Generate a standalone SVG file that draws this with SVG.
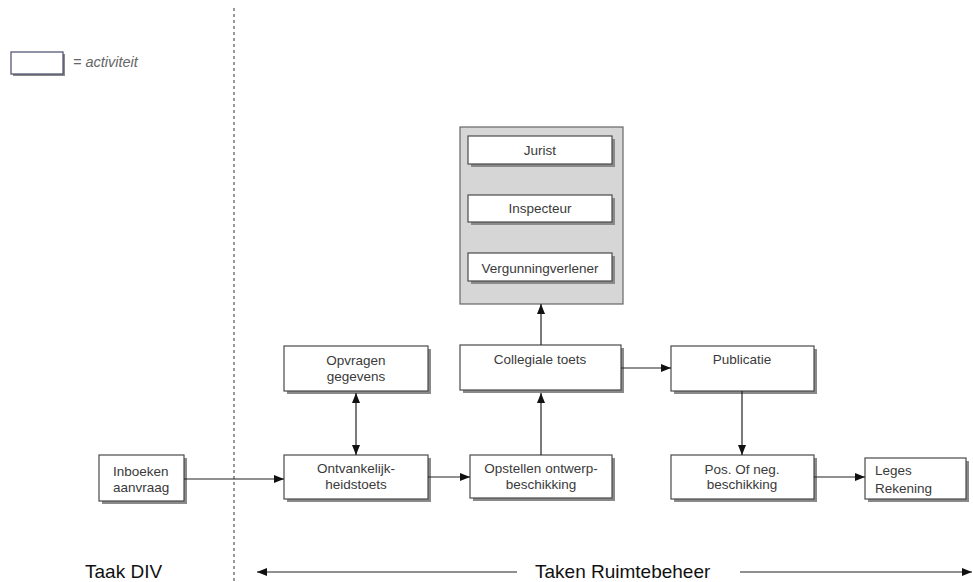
<svg xmlns="http://www.w3.org/2000/svg" width="973" height="582" viewBox="0 0 973 582">
<style>
.sh{fill:#8a8a8a;}
.bx{fill:#ffffff;stroke:#4a4a4a;stroke-width:1.2;}
.t{font-family:"Liberation Sans",Arial,sans-serif;font-size:13.5px;fill:#3a3a3a;}
.c{text-anchor:middle;}
.ln{stroke:#222;stroke-width:1.2;fill:none;}
.big{font-family:"Liberation Sans",Arial,sans-serif;font-size:19px;fill:#111;}
</style>
<defs>
<marker id="ah" markerWidth="10" markerHeight="8" refX="10" refY="4" orient="auto" markerUnits="userSpaceOnUse">
<path d="M0,0 L10,4 L0,8 Z" fill="#111"/>
</marker>
<marker id="as" markerWidth="10" markerHeight="8" refX="0" refY="4" orient="auto" markerUnits="userSpaceOnUse">
<path d="M10,0 L0,4 L10,8 Z" fill="#111"/>
</marker>
</defs>
<rect width="973" height="582" fill="#ffffff"/>
<line x1="234" y1="8" x2="234" y2="582" stroke="#555" stroke-width="1.2" stroke-dasharray="3,3"/>
<g id="legend">
<rect class="sh" x="13" y="54" width="52" height="22"/>
<rect x="11" y="52" width="52" height="22" fill="#fff" stroke="#4a4a6a" stroke-width="1.2"/>
<text x="73" y="67" font-family="'Liberation Sans',Arial,sans-serif" font-size="14.5" font-style="italic" fill="#666">= activiteit</text>
</g>
<g id="container">
<rect x="460" y="127" width="163" height="177" fill="#d6d6d6" stroke="#666" stroke-width="1.2"/>
</g>
<g id="jurist">
<rect class="sh" x="471" y="139" width="144" height="28"/>
<rect class="bx" x="468" y="136" width="144" height="28"/>
<text class="t c" x="540" y="155">Jurist</text>
</g>
<g id="inspecteur">
<rect class="sh" x="471" y="198" width="144" height="27"/>
<rect class="bx" x="468" y="195" width="144" height="27"/>
<text class="t c" x="540" y="213">Inspecteur</text>
</g>
<g id="vergunningverlener">
<rect class="sh" x="471" y="256" width="144" height="28"/>
<rect class="bx" x="468" y="253" width="144" height="28"/>
<text class="t c" x="540" y="273">Vergunningverlener</text>
</g>
<g id="inboeken">
<rect class="sh" x="102" y="458" width="85" height="46"/>
<rect class="bx" x="99" y="455" width="85" height="46"/>
<text class="t" x="113" y="476">Inboeken</text>
<text class="t" x="113" y="492">aanvraag</text>
</g>
<g id="opvragen">
<rect class="sh" x="287" y="349" width="144" height="45"/>
<rect class="bx" x="284" y="346" width="144" height="45"/>
<text class="t c" x="356" y="365">Opvragen</text>
<text class="t c" x="356" y="381">gegevens</text>
</g>
<g id="ontvankelijkheidstoets">
<rect class="sh" x="287" y="458" width="144" height="44"/>
<rect class="bx" x="284" y="455" width="144" height="44"/>
<text class="t c" x="356" y="473">Ontvankelijk-</text>
<text class="t c" x="356" y="489">heidstoets</text>
</g>
<g id="opstellen">
<rect class="sh" x="473" y="458" width="142" height="43"/>
<rect class="bx" x="470" y="455" width="142" height="43"/>
<text class="t c" x="541" y="473">Opstellen ontwerp-</text>
<text class="t c" x="541" y="489">beschikking</text>
</g>
<g id="collegiale">
<rect class="sh" x="463" y="348" width="161" height="45"/>
<rect class="bx" x="460" y="345" width="161" height="45"/>
<text class="t c" x="540" y="364">Collegiale toets</text>
</g>
<g id="publicatie">
<rect class="sh" x="674" y="349" width="143" height="45"/>
<rect class="bx" x="671" y="346" width="143" height="45"/>
<text class="t c" x="742" y="364">Publicatie</text>
</g>
<g id="posneg">
<rect class="sh" x="674" y="458" width="143" height="44"/>
<rect class="bx" x="671" y="455" width="143" height="44"/>
<text class="t c" x="742" y="474">Pos. Of neg.</text>
<text class="t c" x="742" y="489">beschikking</text>
</g>
<g id="leges">
<rect class="sh" x="868" y="461" width="101" height="41"/>
<rect class="bx" x="865" y="458" width="101" height="41"/>
<text class="t" x="875" y="475">Leges</text>
<text class="t" x="875" y="493">Rekening</text>
</g>
<g id="connectors">
<line class="ln" x1="184" y1="479" x2="284" y2="479" marker-end="url(#ah)"/>
<line class="ln" x1="356" y1="393" x2="356" y2="455" marker-start="url(#as)" marker-end="url(#ah)"/>
<line class="ln" x1="428" y1="477" x2="470" y2="477" marker-end="url(#ah)"/>
<line class="ln" x1="541" y1="455" x2="541" y2="393" marker-end="url(#ah)"/>
<line class="ln" x1="541" y1="345" x2="541" y2="304" marker-end="url(#ah)"/>
<line class="ln" x1="621" y1="368" x2="671" y2="368" marker-end="url(#ah)"/>
<line class="ln" x1="742" y1="391" x2="742" y2="455" marker-end="url(#ah)"/>
<line class="ln" x1="814" y1="477" x2="865" y2="477" marker-end="url(#ah)"/>
<line class="ln" x1="517" y1="572" x2="257" y2="572" marker-end="url(#ah)"/>
<line class="ln" x1="740" y1="572" x2="972" y2="572" marker-end="url(#ah)"/>
</g>
<g id="labels">
<text class="big" x="85" y="578">Taak DIV</text>
<text class="big" x="535" y="578">Taken Ruimtebeheer</text>
</g>
</svg>
